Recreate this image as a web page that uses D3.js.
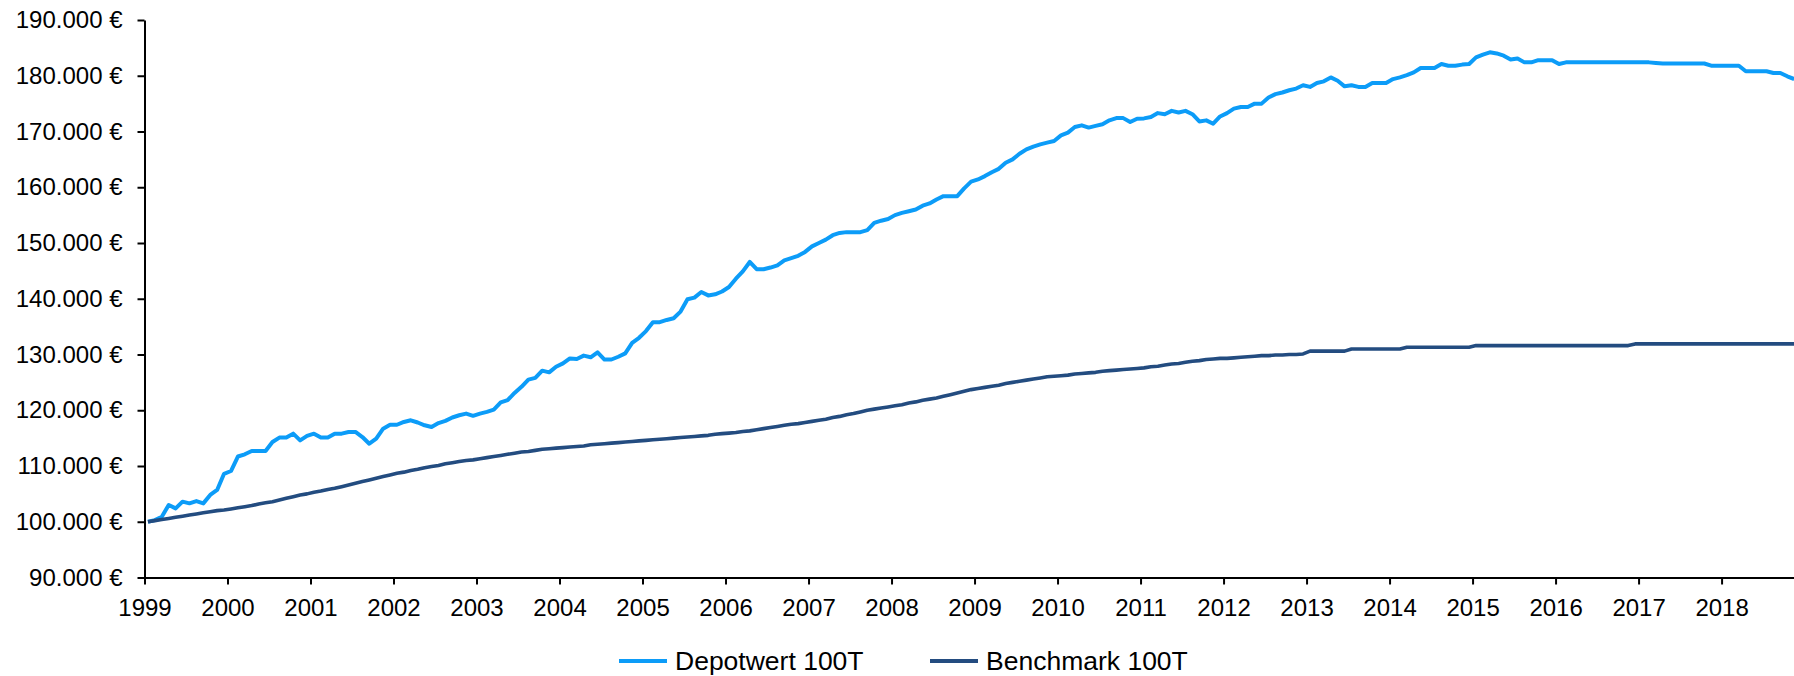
<!DOCTYPE html>
<html>
<head>
<meta charset="utf-8">
<script src="https://cdn.jsdelivr.net/npm/d3@7"></script>
<style>
  html, body { margin: 0; padding: 0; background: #fff; }
  svg { display: block; }
  text { font-family: "Liberation Sans", Arial, sans-serif; fill: #000; }
</style>
</head>
<body>
<svg id="chart" width="1794" height="676"></svg>
<script>
// ---------- DATA ----------
const years = ["1999","2000","2001","2002","2003","2004","2005","2006","2007","2008",
               "2009","2010","2011","2012","2013","2014","2015","2016","2017","2018"];
const yTicks = [90000,100000,110000,120000,130000,140000,150000,160000,170000,180000,190000];
const seriesNames = ["Depotwert 100T", "Benchmark 100T"];

// monthly values Jan 1999 – Nov 2018
const depotwert = [
  100000,100300,100900,103000,102400,103600,103300,103700,103300,104800,105700,108600,
  109100,111700,112100,112700,112700,112700,114300,115100,115100,115800,114600,115400,
  115800,115100,115100,115800,115800,116100,116100,115200,114000,114900,116700,117400,
  117400,117900,118200,117800,117300,117000,117700,118100,118700,119100,119400,119000,
  119400,119700,120100,121400,121800,123100,124200,125500,125800,127100,126800,127800,
  128400,129300,129200,129800,129500,130400,129100,129100,129600,130200,132100,133000,
  134200,135800,135800,136200,136500,137700,139900,140200,141200,140600,140800,141300,
  142100,143600,144900,146600,145300,145300,145600,146000,146900,147300,147700,148400,
  149400,150000,150600,151400,151800,151950,151950,151950,152300,153600,154000,154300,
  155000,155400,155700,156000,156700,157100,157800,158400,158400,158400,159800,161000,
  161400,162000,162700,163300,164400,165000,166000,166800,167300,167700,168000,168300,
  169300,169800,170800,171100,170700,171000,171300,172000,172400,172400,171700,172300,
  172350,172600,173300,173100,173700,173400,173700,173100,171800,172000,171400,172700,
  173300,174100,174400,174400,175000,175000,176100,176700,177000,177400,177700,178300,
  178000,178700,179000,179700,179100,178100,178300,178000,178000,178700,178700,178700,
  179400,179700,180100,180600,181400,181400,181400,182100,181800,181800,182000,182100,
  183300,183800,184200,184000,183600,182900,183100,182400,182400,182800,182800,182800,
  182100,182400,182400,182400,182400,182400,182400,182400,182400,182400,182400,182400,
  182400,182400,182300,182200,182200,182200,182200,182200,182200,182200,181800,181800,
  181800,181800,181800,180800,180800,180800,180800,180500,180500,179900,179400
];
const benchmark = [
  100000,100200,100400,100600,100800,101000,101200,101400,101600,101800,102000,102100,
  102300,102500,102700,102900,103200,103400,103600,103900,104200,104500,104800,105000,
  105300,105500,105800,106000,106300,106600,106900,107200,107500,107800,108100,108400,
  108700,108900,109200,109400,109700,109900,110100,110400,110600,110800,111000,111100,
  111300,111500,111700,111900,112100,112300,112500,112600,112800,113000,113100,113200,
  113300,113400,113500,113600,113800,113900,114000,114100,114200,114300,114400,114500,
  114600,114700,114800,114900,115000,115100,115200,115300,115400,115500,115700,115800,
  115900,116000,116200,116300,116500,116700,116900,117100,117300,117500,117600,117800,
  118000,118200,118400,118700,118900,119200,119400,119700,120000,120200,120400,120600,
  120800,121000,121300,121500,121800,122000,122200,122500,122800,123100,123400,123700,
  123900,124100,124300,124500,124800,125000,125200,125400,125600,125800,126000,126100,
  126200,126300,126500,126600,126700,126800,127000,127100,127200,127300,127400,127500,
  127600,127800,127900,128100,128300,128400,128600,128800,128900,129100,129200,129300,
  129300,129400,129500,129600,129700,129800,129800,129900,129900,130000,130000,130100,
  130600,130600,130600,130600,130600,130600,131000,131000,131000,131000,131000,131000,
  131000,131000,131300,131300,131300,131300,131300,131300,131300,131300,131300,131300,
  131600,131600,131600,131600,131600,131600,131600,131600,131600,131600,131600,131600,
  131600,131600,131600,131600,131600,131600,131600,131600,131600,131600,131600,131900,
  131900,131900,131900,131900,131900,131900,131900,131900,131900,131900,131900,131900,
  131900,131900,131900,131900,131900,131900,131900,131900,131900,131900,131900
];
const seriesColors = ["#0c9cf8", "#234c80"];

// ---------- CHART ----------
const svg = d3.select("#chart");
const plotLeft = 144.5, plotTop = 20, plotBottom = 577.5, catW = 6.917;
const nCats = depotwert.length;

const x = d3.scaleLinear().domain([0, nCats]).range([plotLeft, plotLeft + nCats * catW]);
const y = d3.scaleLinear().domain([90000, 190000]).range([plotBottom, plotTop]);

const de = d3.formatLocale({decimal: ",", thousands: ".", grouping: [3], currency: ["", " €"]});
const fmt = de.format(",.0f");

// Lines
const line = d3.line().x((d, i) => x(i + 0.5)).y(d => y(d)).curve(d3.curveLinear);
[depotwert, benchmark].forEach((s, k) => {
  svg.append("path")
    .datum(s)
    .attr("fill", "none")
    .attr("stroke", seriesColors[k])
    .attr("stroke-width", k === 0 ? 4 : 3.6)
    .attr("stroke-linejoin", "round")
    .attr("d", line);
});

// Axes
const yAxis = d3.axisLeft(y).tickValues(yTicks).tickFormat(v => fmt(v) + " €")
  .tickSize(7).tickSizeOuter(0).tickPadding(15);
const gy = svg.append("g").attr("transform", `translate(${plotLeft},0)`).call(yAxis);

const xAxis = d3.axisBottom(x).tickValues(d3.range(0, years.length * 12, 12))
  .tickFormat((d, i) => years[i]).tickSize(7).tickSizeOuter(0).tickPadding(14);
const gx = svg.append("g").attr("transform", `translate(0,${plotBottom})`).call(xAxis);

[gx, gy].forEach(g => {
  g.selectAll("path.domain").attr("stroke", "#000").attr("stroke-width", 2);
  g.selectAll(".tick line").attr("stroke", "#000").attr("stroke-width", 2);
  g.selectAll("text").attr("font-size", 24).attr("font-family", '"Liberation Sans", Arial, sans-serif');
});

// Legend
const legendY = 661;
const legendItems = [{x: 619}, {x: 930}];
legendItems.forEach((it, k) => {
  svg.append("line")
    .attr("x1", it.x).attr("x2", it.x + 48)
    .attr("y1", legendY).attr("y2", legendY)
    .attr("stroke", seriesColors[k]).attr("stroke-width", 4);
  svg.append("text")
    .attr("x", it.x + 56).attr("y", legendY)
    .attr("dy", "0.35em")
    .attr("font-size", 26.5)
    .text(seriesNames[k]);
});
</script>
</body>
</html>
